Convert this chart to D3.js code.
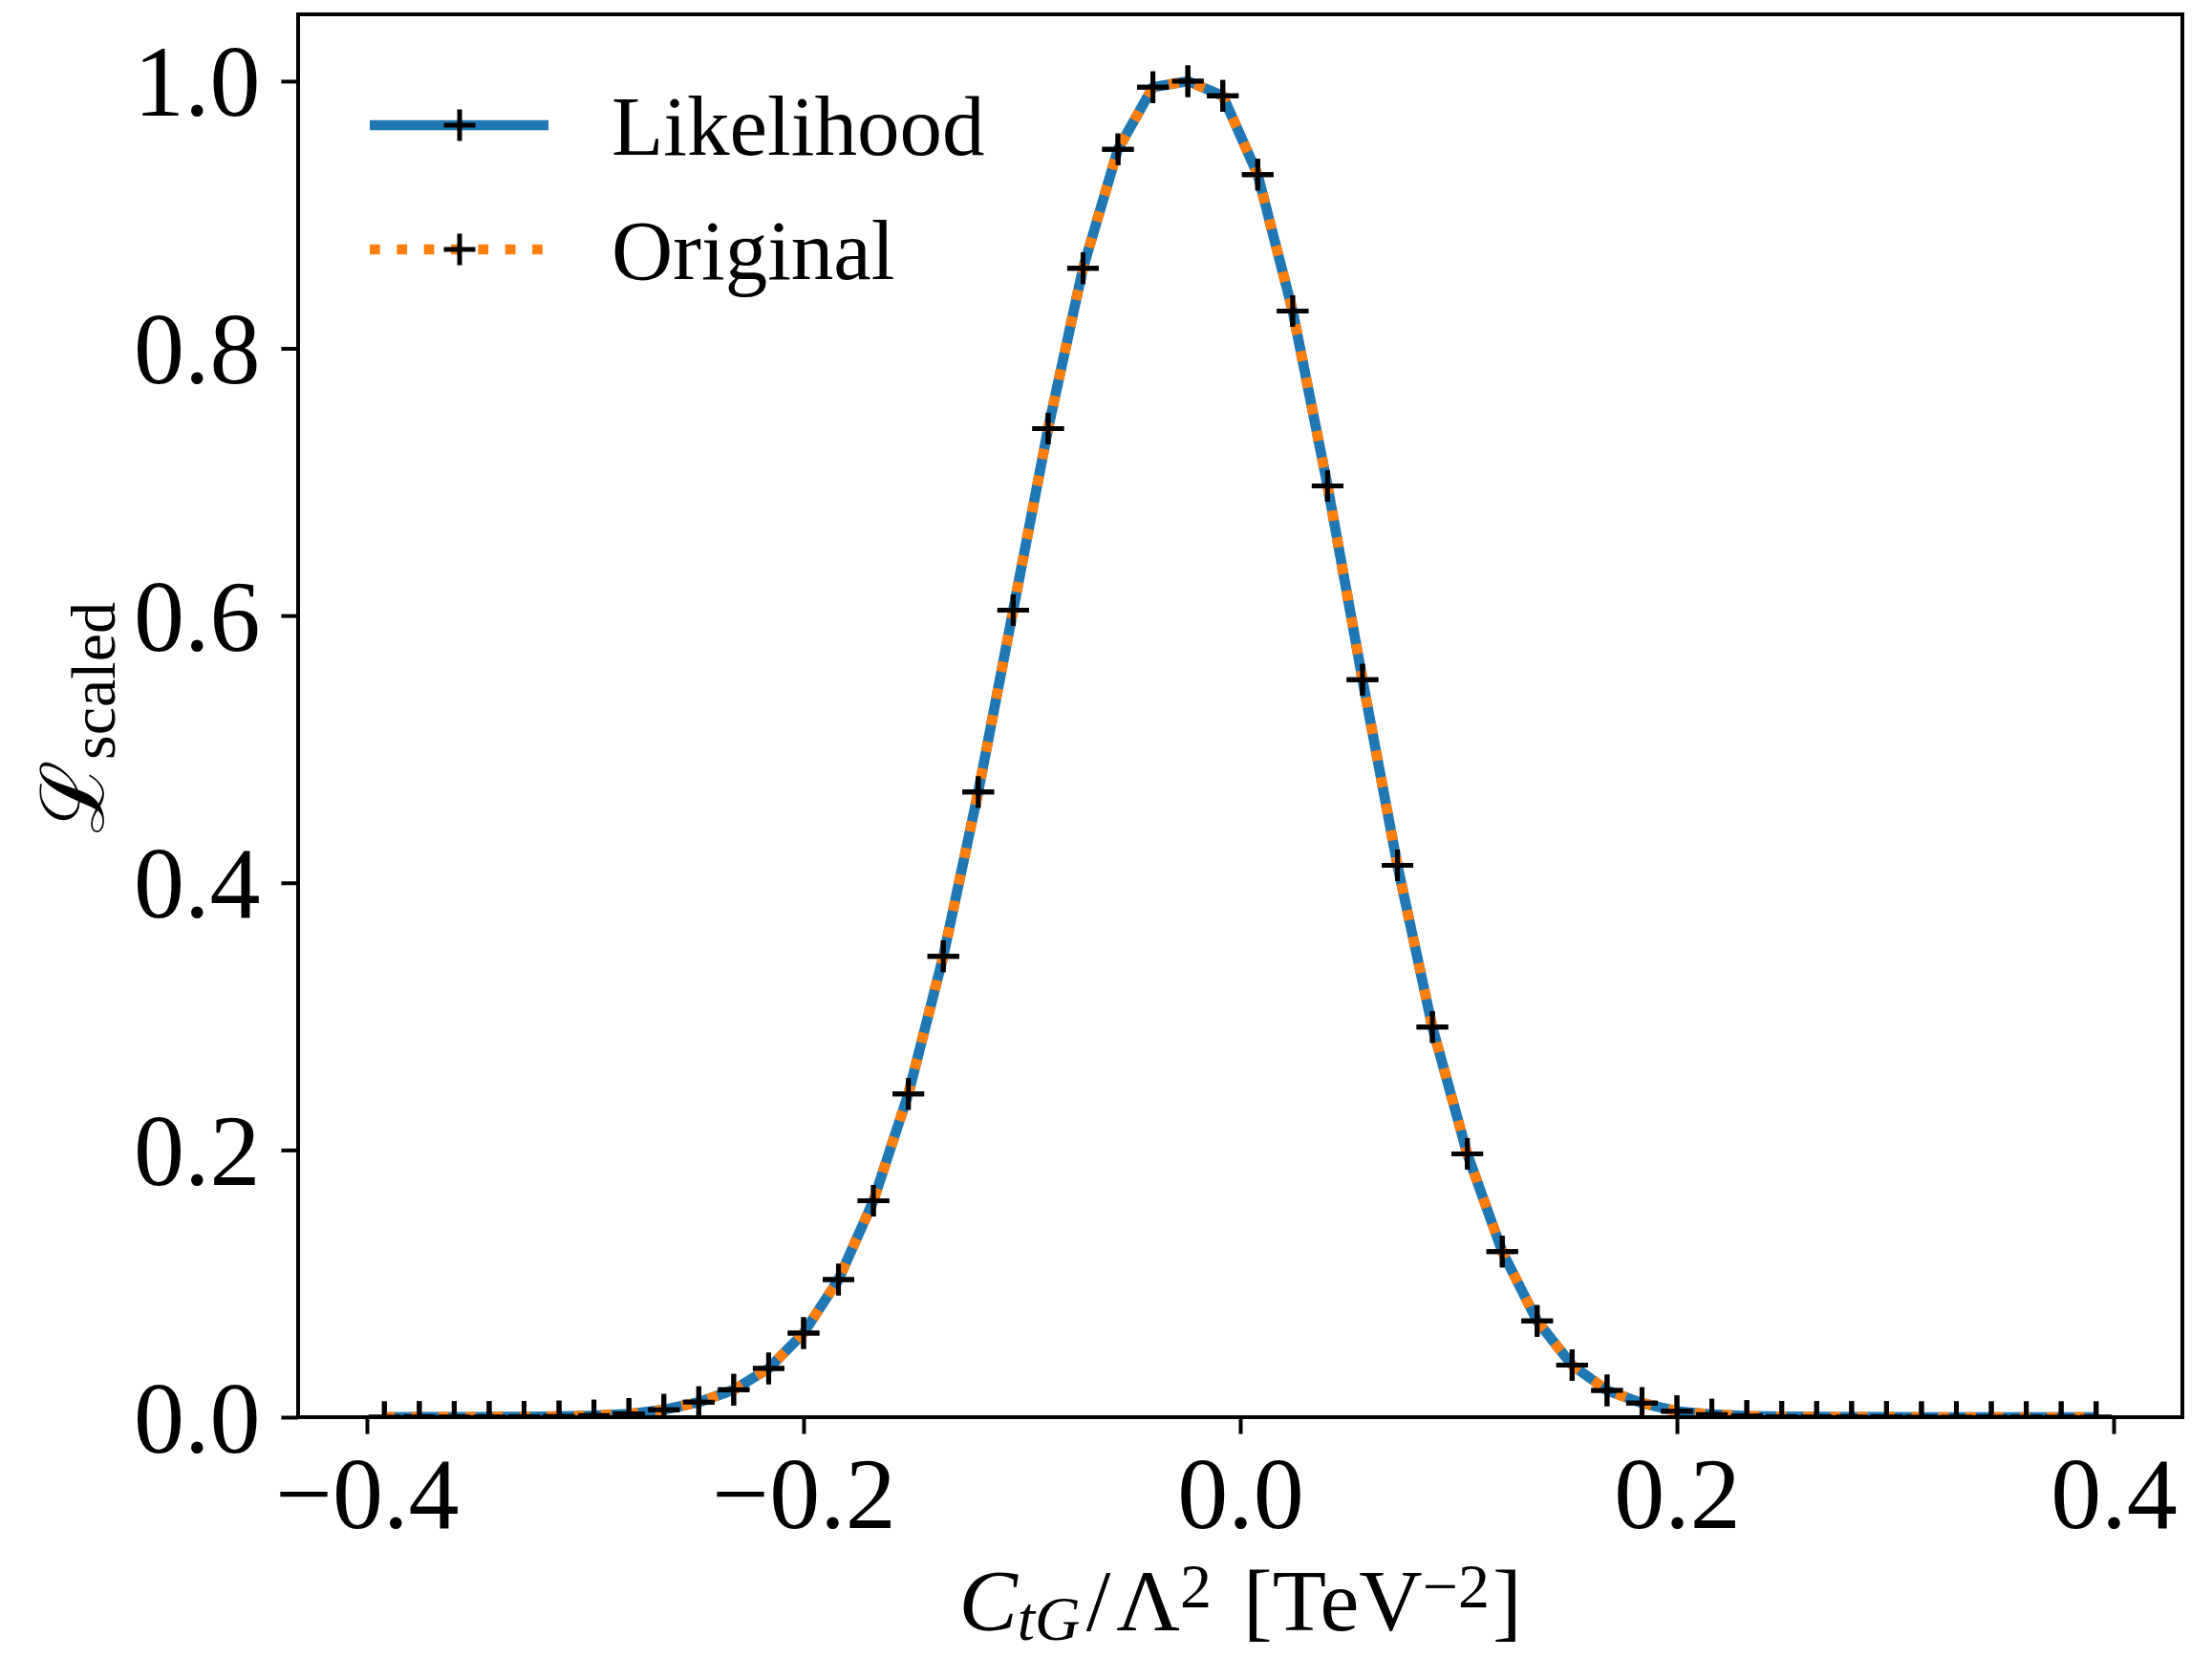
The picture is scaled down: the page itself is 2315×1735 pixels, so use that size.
<!DOCTYPE html>
<html>
<head>
<meta charset="utf-8">
<script src="https://cdn.jsdelivr.net/npm/d3@7/dist/d3.min.js"></script>
<style>
  body { margin: 0; background: #fff; }
  svg { display: block; }
  text { font-family: "Liberation Serif", "DejaVu Serif", serif; fill: #000; }
</style>
</head>
<body>
<div id="viz"></div>
<script>
// bin centres of C_tG / Lambda^2 [TeV^-2]
var cValues = [-0.392, -0.376, -0.360, -0.344, -0.328, -0.312, -0.296, -0.280, -0.264, -0.248,
               -0.232, -0.216, -0.200, -0.184, -0.168, -0.152, -0.136, -0.120, -0.104, -0.088,
               -0.072, -0.056, -0.040, -0.024, -0.008, 0.008, 0.024, 0.040, 0.056, 0.072,
               0.088, 0.104, 0.120, 0.136, 0.152, 0.168, 0.184, 0.200, 0.216, 0.232,
               0.248, 0.264, 0.280, 0.296, 0.312, 0.328, 0.344, 0.360, 0.376, 0.392];

var likelihood = [0.0000, 0.0001, 0.0001, 0.0002, 0.0003, 0.0006, 0.0012, 0.0025, 0.0055, 0.0112,
                  0.0205, 0.0365, 0.0630, 0.1030, 0.1620, 0.2420, 0.3450, 0.4680, 0.6040, 0.7400,
                  0.8600, 0.9490, 0.9955, 1.0000, 0.9890, 0.9300, 0.8280, 0.6970, 0.5520, 0.4130,
                  0.2920, 0.1970, 0.1240, 0.0720, 0.0390, 0.0200, 0.0106, 0.0045, 0.0020, 0.0009,
                  0.0004, 0.0002, 0.0001, 0.0001, 0.0000, 0.0000, 0.0000, 0.0000, 0.0000, 0.0000];

var original = [0.0000, 0.0001, 0.0001, 0.0002, 0.0003, 0.0006, 0.0012, 0.0025, 0.0055, 0.0112,
                0.0205, 0.0365, 0.0630, 0.1030, 0.1620, 0.2420, 0.3450, 0.4680, 0.6040, 0.7400,
                0.8600, 0.9490, 0.9955, 1.0000, 0.9890, 0.9300, 0.8280, 0.6970, 0.5520, 0.4130,
                0.2920, 0.1970, 0.1240, 0.0720, 0.0390, 0.0200, 0.0106, 0.0045, 0.0020, 0.0009,
                0.0004, 0.0002, 0.0001, 0.0001, 0.0000, 0.0000, 0.0000, 0.0000, 0.0000, 0.0000];

var xTicks = [-0.4, -0.2, 0.0, 0.2, 0.4];
var yTicks = [0.0, 0.2, 0.4, 0.6, 0.8, 1.0];
var seriesNames = ["Likelihood", "Original"];

var width = 2315, height = 1735;
var margin = {top: 15, right: 31, bottom: 252, left: 312};
var plotW = width - margin.left - margin.right,
    plotH = height - margin.top - margin.bottom;

var lw = 10.7;
var blue = "#1f77b4", orange = "#ff7f0e";

var x = d3.scaleLinear().domain([-0.4315, 0.4315]).range([0, plotW]);
var y = d3.scaleLinear().domain([0, 1.05]).range([plotH, 0]);

var svg = d3.select("#viz").append("svg")
    .attr("width", width)
    .attr("height", height);

var g = svg.append("g")
    .attr("transform", "translate(" + margin.left + "," + margin.top + ")");

g.append("clipPath").attr("id", "clip")
  .append("rect").attr("width", plotW).attr("height", plotH);

var line = d3.line()
    .x(function(d, i) { return x(cValues[i]); })
    .y(function(d) { return y(d); });

function plus(sel, size) {
  var h = size / 2;
  sel.append("path")
    .attr("d", "M" + (-h) + ",0H" + h + "M0," + (-h) + "V" + h)
    .attr("stroke", "#000")
    .attr("stroke-width", 5)
    .attr("fill", "none");
}

var plot = g.append("g").attr("clip-path", "url(#clip)");

// Likelihood: solid blue
plot.append("path")
    .datum(likelihood)
    .attr("d", line)
    .attr("fill", "none")
    .attr("stroke", blue)
    .attr("stroke-width", lw)
    .attr("stroke-linejoin", "round");

plot.append("g").selectAll("g")
    .data(likelihood)
  .enter().append("g")
    .attr("transform", function(d, i) { return "translate(" + x(cValues[i]) + "," + y(d) + ")"; })
    .call(plus, 33);

// Original: dotted orange
plot.append("path")
    .datum(original)
    .attr("d", line)
    .attr("fill", "none")
    .attr("stroke", orange)
    .attr("stroke-width", lw)
    .attr("stroke-dasharray", lw + "," + (lw * 1.65))
    .attr("stroke-linecap", "butt");

plot.append("g").selectAll("g")
    .data(original)
  .enter().append("g")
    .attr("transform", function(d, i) { return "translate(" + x(cValues[i]) + "," + y(d) + ")"; })
    .call(plus, 33);

// axes
var xAxis = g.append("g")
    .attr("transform", "translate(0," + plotH + ")")
    .call(d3.axisBottom(x).tickValues(xTicks).tickSize(17.6).tickPadding(26)
          .tickFormat(function(d) { return d3.format(".1f")(d).replace("-", "\u2212"); }));

var yAxis = g.append("g")
    .call(d3.axisLeft(y).tickValues(yTicks).tickSize(17.6).tickPadding(22)
          .tickFormat(d3.format(".1f")));

[xAxis, yAxis].forEach(function(a) {
  a.select(".domain").remove();
  a.selectAll(".tick line").attr("stroke", "#000").attr("stroke-width", 4);
  a.selectAll(".tick text").attr("font-size", 106).attr("fill", "#000")
    .style("font-family", "'Liberation Serif', serif");
});
xAxis.selectAll(".tick text").attr("dy", "0.68em");
yAxis.selectAll(".tick text").attr("dy", "0.34em");

// frame
g.append("rect")
    .attr("width", plotW)
    .attr("height", plotH)
    .attr("fill", "none")
    .attr("stroke", "#000")
    .attr("stroke-width", 4);

// legend
var legend = svg.append("g").attr("class", "legend");
var legendRows = [
  {name: seriesNames[0], y: 131, color: blue, dash: null},
  {name: seriesNames[1], y: 261, color: orange, dash: lw + "," + (lw * 1.65)}
];
legendRows.forEach(function(r) {
  legend.append("line")
    .attr("x1", 387).attr("x2", 574)
    .attr("y1", r.y).attr("y2", r.y)
    .attr("stroke", r.color)
    .attr("stroke-width", lw)
    .attr("stroke-dasharray", r.dash);
  legend.append("g")
    .attr("transform", "translate(481," + r.y + ")")
    .call(plus, 33);
  legend.append("text")
    .attr("x", 640)
    .attr("y", r.y + 31)
    .attr("font-size", 89)
    .text(r.name);
});

// x label: C_{tG}/Λ^2 [TeV^{-2}]
var xl = svg.append("text")
    .attr("x", margin.left + plotW / 2)
    .attr("y", 1706)
    .attr("text-anchor", "middle")
    .attr("font-size", 92);
xl.append("tspan").attr("font-style", "italic").text("C");
xl.append("tspan").attr("font-style", "italic").attr("font-size", 66).attr("dy", 10).text("tG");
xl.append("tspan").attr("dy", -10).attr("dx", 6).text("/");
xl.append("tspan").attr("dx", 6).text("\u039B");
xl.append("tspan").attr("font-size", 66).attr("dy", -24).text("2");
xl.append("tspan").attr("dy", 24).text(" ");
xl.append("tspan").attr("dx", 10).text("[TeV");
xl.append("tspan").attr("font-size", 66).attr("dy", -24).text("\u22122");
xl.append("tspan").attr("dy", 24).attr("dx", 3).text("]");

// y label: L_scaled
var yl = svg.append("text")
    .attr("transform", "translate(108,751) rotate(-90)")
    .attr("text-anchor", "middle")
    .attr("font-size", 92);
yl.append("tspan").attr("font-family", "'DejaVu Serif', serif").text("\u2112");
yl.append("tspan").attr("font-size", 66).attr("dy", 12).text("scaled");
</script>
</body>
</html>
